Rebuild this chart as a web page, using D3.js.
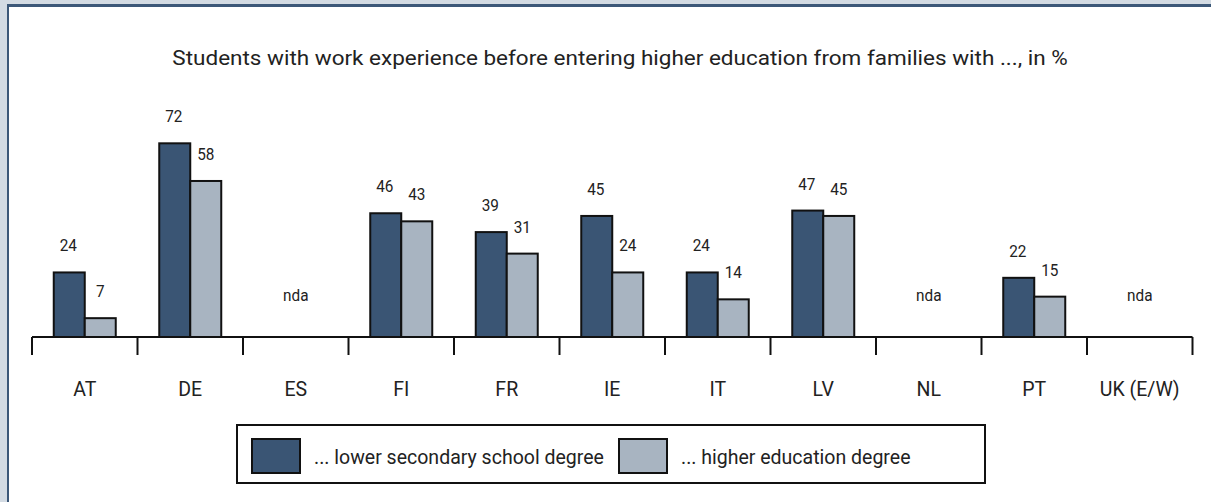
<!DOCTYPE html>
<html><head><meta charset="utf-8">
<script src="https://cdn.jsdelivr.net/npm/d3@7"></script>
<style>
html,body{margin:0;padding:0;background:#d3dbe3;}
svg{display:block;}
text{font-family:Roboto,"Noto Sans",sans-serif;font-weight:400;fill:#222;}
</style></head>
<body>
<svg id="chart" width="1211" height="502"></svg>
<script>
const categories = ["AT","DE","ES","FI","FR","IE","IT","LV","NL","PT","UK (E/W)"];
const lowerSecondary = [24,72,null,46,39,45,24,47,null,22,null];
const higherEducation = [7,58,null,43,31,24,14,45,null,15,null];
const seriesNames = ["... lower secondary school degree","... higher education degree"];
const seriesColors = ["#3a5574","#a8b4c1"];
const title = "Students with work experience before entering higher education from families with ..., in %";
const missingLabel = "nda";

const svg = d3.select("#chart");
svg.append("rect").attr("x",0).attr("y",0).attr("width",1211).attr("height",502).attr("fill","#d3dbe3");
svg.append("rect").attr("x",7).attr("y",4).attr("width",1204).attr("height",498).attr("fill","#3c5878");
svg.append("rect").attr("x",9).attr("y",7).attr("width",1202).attr("height",495).attr("fill","#ffffff");

const texts = [];
function addText(parent, tx, ty, str, size, anchor){
  const g = parent.append("g").attr("transform",`translate(${tx},${ty})`);
  const t = g.append("text").attr("x",0).attr("y",0).attr("text-anchor",anchor||"start")
    .attr("font-size",size).text(str);
  texts.push(t);
  return t;
}

const titleText = addText(svg, 620, 65, title, 21, "middle");

const x = d3.scaleBand().domain(categories).range([32,1192.5]);
const y = d3.scaleLinear().domain([0,100]).range([337,68]);
const bw = 31;

const axisG = svg.append("g").attr("transform","translate(0,337)");
axisG.append("line").attr("x1",32).attr("x2",1192.5).attr("y1",0).attr("y2",0)
  .attr("stroke","#111").attr("stroke-width",2);
const tickPos = categories.map(c=>x(c)).concat([x.range()[1]]);
axisG.selectAll("line.tick").data(tickPos).join("line").attr("class","tick")
  .attr("x1",d=>d).attr("x2",d=>d).attr("y1",0).attr("y2",18)
  .attr("stroke","#111").attr("stroke-width",2);

categories.forEach(c=>addText(svg, x(c)+x.bandwidth()/2, 396, c, 21, "middle"));

const series = [lowerSecondary, higherEducation];
series.forEach((vals,si)=>{
  const data = categories.map((c,i)=>({c,v:vals[i]})).filter(d=>d.v!==null);
  const g = svg.append("g");
  g.selectAll("rect").data(data).join("rect")
    .attr("x",d=>x(d.c)+x.bandwidth()/2 - bw + si*bw)
    .attr("y",d=>y(d.v)).attr("width",bw).attr("height",d=>y(0)-y(d.v))
    .attr("fill",seriesColors[si]).attr("stroke","#111").attr("stroke-width",2);
  data.forEach(d=>addText(g, x(d.c)+x.bandwidth()/2 - bw/2 + si*bw - (si===0?1:0), y(d.v)-21, d.v, 16.5, "middle"));
});

categories.forEach((c,i)=>{
  if(lowerSecondary[i]===null && higherEducation[i]===null)
    addText(svg, x(c)+x.bandwidth()/2, 301, missingLabel, 16.5, "middle");
});

const lg = svg.append("g");
lg.append("rect").attr("x",237).attr("y",425).attr("width",748).attr("height",58)
  .attr("fill","#fff").attr("stroke","#111").attr("stroke-width",2);
const legendItems = [{x:252, tx:314},{x:619, tx:681}];
let legendFirst = null;
legendItems.forEach((it,i)=>{
  lg.append("rect").attr("x",it.x).attr("y",439).attr("width",48).attr("height",34)
    .attr("fill",seriesColors[i]).attr("stroke","#111").attr("stroke-width",2);
  const t = addText(lg, it.tx, 464, seriesNames[i], 21, "start");
  if(i===0) legendFirst = t;
});

// condense glyphs horizontally to the reference's condensed face
const kTitle = 896 / titleText.node().getComputedTextLength();
const k = 290 / legendFirst.node().getComputedTextLength();
texts.forEach(t=>t.attr("transform",`scale(${t===titleText?kTitle:k},1)`));
</script>
</body></html>
